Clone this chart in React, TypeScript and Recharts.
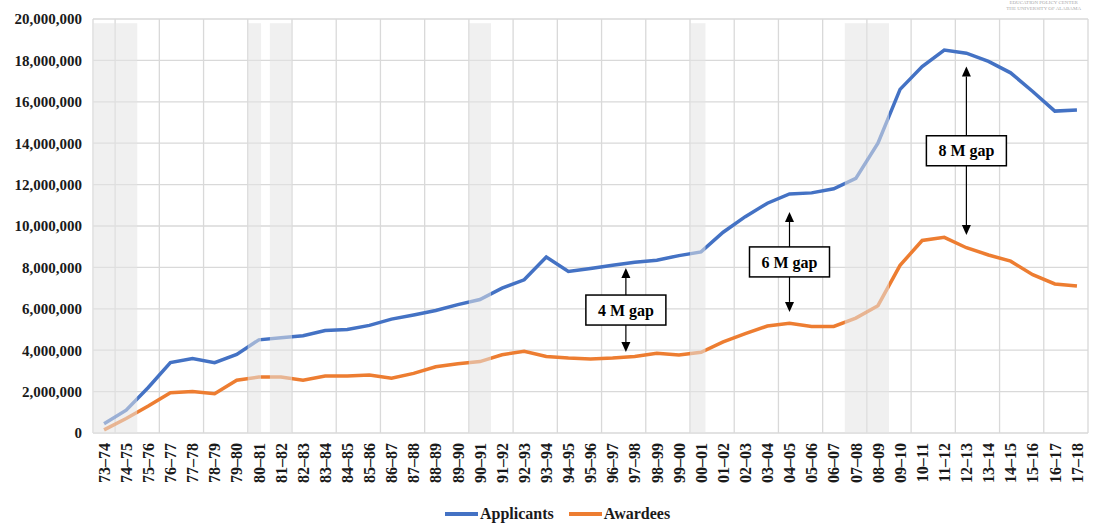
import {
  LineChart,
  Line,
  XAxis,
  YAxis,
  CartesianGrid,
  ReferenceArea,
  ReferenceLine,
} from 'recharts';

const categories = [
  '73–74', '74–75', '75–76', '76–77', '77–78', '78–79', '79–80', '80–81', '81–82', '82–83',
  '83–84', '84–85', '85–86', '86–87', '87–88', '88–89', '89–90', '90–91', '91–92', '92–93',
  '93–94', '94–95', '95–96', '96–97', '97–98', '98–99', '99–00', '00–01', '01–02', '02–03',
  '03–04', '04–05', '05–06', '06–07', '07–08', '08–09', '09–10', '10–11', '11–12', '12–13',
  '13–14', '14–15', '15–16', '16–17', '17–18',
];

const applicants = [
  450000, 1100000, 2200000, 3400000, 3600000, 3400000, 3800000, 4500000, 4600000, 4700000,
  4950000, 5000000, 5200000, 5500000, 5700000, 5920000, 6200000, 6450000, 7000000, 7400000,
  8500000, 7800000, 7950000, 8100000, 8250000, 8350000, 8570000, 8750000, 9700000, 10450000,
  11100000, 11550000, 11600000, 11800000, 12300000, 14000000, 16600000, 17700000, 18500000, 18350000,
  17950000, 17400000, 16500000, 15550000, 15600000,
];

const awardees = [
  150000, 700000, 1300000, 1950000, 2000000, 1900000, 2550000, 2700000, 2700000, 2550000,
  2750000, 2750000, 2800000, 2650000, 2880000, 3200000, 3350000, 3450000, 3780000, 3950000,
  3700000, 3620000, 3580000, 3620000, 3700000, 3850000, 3770000, 3900000, 4400000, 4800000,
  5170000, 5300000, 5150000, 5150000, 5550000, 6150000, 8100000, 9300000, 9450000, 8950000,
  8600000, 8300000, 7650000, 7200000, 7100000,
];

const yTicks = [0, 2000000, 4000000, 6000000, 8000000, 10000000, 12000000, 14000000, 16000000, 18000000, 20000000];

// recession periods, in category-index units (cells span i-0.5 .. i+0.5)
const recessions = [
  [-0.5, 0.5], [0.5, 1.5], [6.5, 7.1], [7.5, 8.5], [16.5, 17.5], [26.5, 27.2], [33.5, 34.5], [34.5, 35.5],
];

const gaps = [
  { x: 23.6, top: 7970000, bottom: 3910000, label: '4 M gap' },
  { x: 31, top: 10680000, bottom: 5850000, label: '6 M gap' },
  { x: 39, top: 17700000, bottom: 9570000, label: '8 M gap' },
];

const FONT = "'Liberation Serif', 'Times New Roman', serif";
const BLUE = '#4472C4';
const ORANGE = '#ED7D31';

const data = categories.map((label, i) => ({
  i,
  label,
  applicants: applicants[i],
  awardees: awardees[i],
}));

const labelTicks = categories.map((_, i) => i);
const gridTicks = [...categories.map((_, i) => i - 0.5), categories.length - 0.5];

function CatTick(props: any) {
  const { x, y, payload } = props;
  return (
    <text
      x={x}
      y={y}
      dy="0.36em"
      transform={`rotate(-90, ${x}, ${y})`}
      textAnchor="end"
      fontFamily={FONT}
      fontWeight="bold"
      fontSize={16}
      fill="#1a1a1a"
    >
      {categories[payload.value]}
    </text>
  );
}

function GapArrow(props: any) {
  const { x1, y1, y2, label } = props;
  const x = x1;
  const top = Math.min(y1, y2);
  const bot = Math.max(y1, y2);
  const mid = (top + bot) / 2;
  const head = 10;
  const hw = 4.5;
  return (
    <g>
      <line x1={x} y1={top + head} x2={x} y2={bot - head} stroke="#000" strokeWidth={1.2} />
      <polygon points={`${x},${top} ${x - hw},${top + head} ${x + hw},${top + head}`} fill="#000" />
      <polygon points={`${x},${bot} ${x - hw},${bot - head} ${x + hw},${bot - head}`} fill="#000" />
      <rect x={x - 40} y={mid - 15} width={80} height={30} fill="#fff" stroke="#000" strokeWidth={1.5} />
      <text
        x={x}
        y={mid}
        dy="0.35em"
        textAnchor="middle"
        fontFamily={FONT}
        fontWeight="bold"
        fontSize={16}
        fill="#000"
      >
        {label}
      </text>
    </g>
  );
}

function LegendBox() {
  const item = (color: string, name: string) => (
    <span style={{ display: 'inline-flex', alignItems: 'center', marginRight: 15 }}>
      <span style={{ display: 'inline-block', width: 33, height: 4, background: color, marginRight: 2 }} />
      <span>{name}</span>
    </span>
  );
  return (
    <div
      style={{
        position: 'absolute',
        left: 445,
        top: 504,
        display: 'flex',
        fontFamily: FONT,
        fontWeight: 'bold',
        fontSize: 16,
        lineHeight: '20px',
        color: '#1a1a1a',
      }}
    >
      {item(BLUE, 'Applicants')}
      {item(ORANGE, 'Awardees')}
    </div>
  );
}

export default function App() {
  return (
    <div style={{ position: 'relative', width: 1099, height: 523, background: '#fff', overflow: 'hidden' }}>
      <style>{'body{margin:0;overflow:hidden;}'}</style>
      <div
        style={{
          position: 'absolute',
          right: 18,
          top: 0,
          fontFamily: FONT,
          fontSize: 5,
          lineHeight: '6px',
          color: '#aaa',
          textAlign: 'center',
        }}
      >
        <div>EDUCATION POLICY CENTER</div>
        <div>THE UNIVERSITY OF ALABAMA</div>
      </div>
      <LineChart
        width={1099}
        height={523}
        data={data}
        margin={{ top: 19, right: 11, bottom: 32, left: 0 }}
      >
        <CartesianGrid xAxisId="grid" stroke="#d9d9d9" strokeWidth={1.3} />
        <XAxis
          xAxisId="grid"
          type="number"
          dataKey="i"
          domain={[-0.5, 44.5]}
          ticks={gridTicks}
          allowDataOverflow
          height={0}
          hide
        />
        <XAxis
          xAxisId="lab"
          type="number"
          dataKey="i"
          domain={[-0.5, 44.5]}
          ticks={labelTicks}
          interval={0}
          allowDataOverflow
          tick={<CatTick />}
          tickLine={false}
          axisLine={false}
          tickSize={0}
          tickMargin={10}
          height={58}
        />
        <YAxis
          type="number"
          domain={[0, 20000000]}
          ticks={yTicks}
          interval={0}
          width={93}
          tickLine={false}
          axisLine={false}
          tickSize={0}
          tickMargin={11}
          tickFormatter={(v: number) => v.toLocaleString('en-US')}
          tick={{ fontFamily: FONT, fontWeight: 'bold', fontSize: 15, fill: '#1a1a1a' }}
        />
        <Line
          xAxisId="lab"
          dataKey="applicants"
          name="Applicants"
          stroke={BLUE}
          strokeWidth={3.5}
          dot={false}
          isAnimationActive={false}
        />
        <Line
          xAxisId="lab"
          dataKey="awardees"
          name="Awardees"
          stroke={ORANGE}
          strokeWidth={3.5}
          dot={false}
          isAnimationActive={false}
        />
        {recessions.map(([a, b], k) => (
          <ReferenceArea
            key={k}
            xAxisId="lab"
            x1={a}
            x2={b}
            y1={0}
            y2={19800000}
            fill="#e4e4e4"
            fillOpacity={0.55}
            stroke="none"
            zIndex={600}
          />
        ))}
        {gaps.map((g) => (
          <ReferenceLine
            key={g.label}
            xAxisId="lab"
            segment={[{ x: g.x, y: g.top }, { x: g.x, y: g.bottom }]}
            shape={(p: any) => <GapArrow {...p} label={g.label} />}
            zIndex={700}
          />
        ))}
      </LineChart>
      <LegendBox />
    </div>
  );
}
